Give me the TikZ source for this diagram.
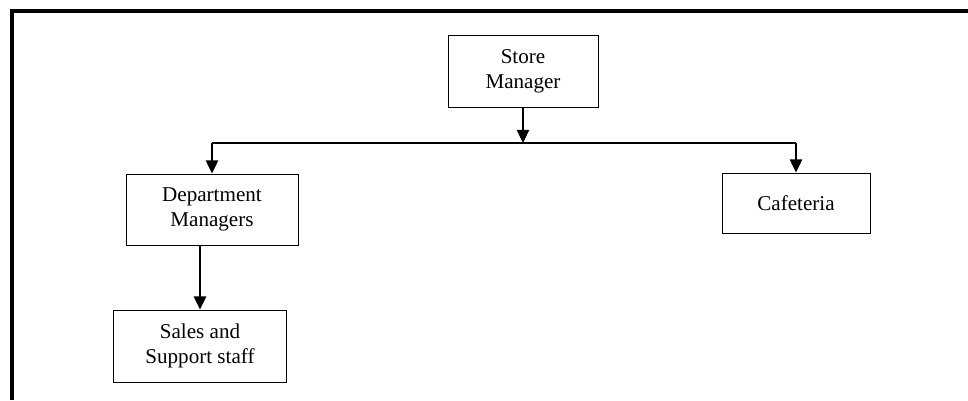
\documentclass[tikz,border=0pt]{standalone}
\usepackage{fontspec}
\setmainfont{Liberation Serif}
\usepackage{tikz}
\usetikzlibrary{positioning, arrows.meta, calc}
\tikzset{
  % plain box of the chart
  orgbox/.style={rectangle, draw=black, line width=0.5pt, fill=white,
                 align=center, inner sep=2pt,
                 font=\fontsize{12}{14.4}\selectfont},
  % link with filled head
  orglink/.style={draw=black, line width=1pt,
                  -{Triangle[width=7pt,length=7.5pt]}},
  % the horizontal bar
  orgbar/.style={draw=black, line width=0.7pt},
}
\begin{document}
\begin{tikzpicture}[x=0.02cm, y=-0.02cm]
  \useasboundingbox (0,0) rectangle (968,400);
  % outer frame (left and top only)
  \draw[line width=2pt] (12,400) -- (12,11) -- (968,11);

  % boxes
  \node[orgbox, minimum width=150*0.02cm, minimum height=72*0.02cm]
    (store) at (523,71) {Store\\Manager};
  \node[orgbox, minimum width=172*0.02cm, minimum height=71*0.02cm]
    (dept) at (212,209.5) {Department\\Managers};
  \node[orgbox, minimum width=148*0.02cm, minimum height=60*0.02cm]
    (cafe) at (796,203) {Cafeteria};
  \node[orgbox, minimum width=173*0.02cm, minimum height=72*0.02cm]
    (sales) at (200,346) {Sales and\\Support staff};

  % connectors
  \coordinate (bus) at (523,143);
  \draw[orglink] (store.south) -- (bus);
  \draw[orgbar] (bus) -- (bus -| dept.north);
  \draw[orgbar] (bus) -- (bus -| cafe.north);
  \draw[orglink] (bus -| dept.north) -- (dept.north);
  \draw[orglink] (bus -| cafe.north) -- (cafe.north);
  \draw[orglink] (dept.south -| sales.north) -- (sales.north);
\end{tikzpicture}
\end{document}
